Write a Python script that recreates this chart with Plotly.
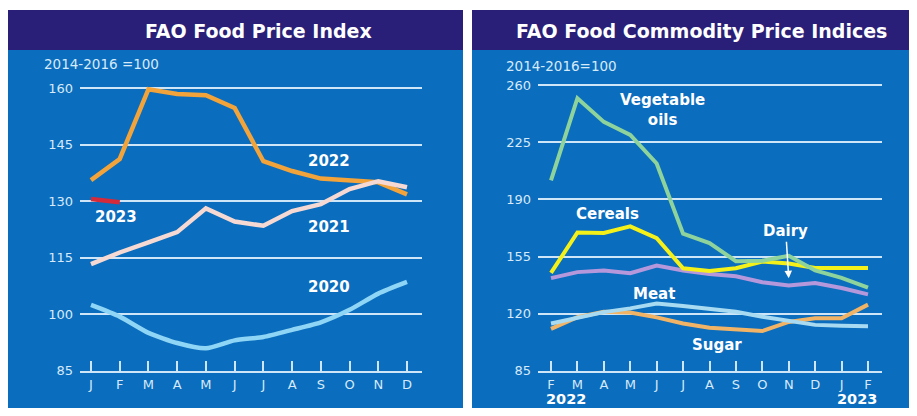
import plotly.graph_objects as go

# page body has an 8px margin, so the figure is drawn 8px in from the top-left
OFF = 8
W, H = 917 - OFF, 416 - OFF

# ---------------- data ----------------
months_left = ["J", "F", "M", "A", "M", "J", "J", "A", "S", "O", "N", "D"]
fpi_2020 = [102.5, 99.4, 95.1, 92.4, 91.0, 93.1, 94.0, 95.9, 97.9, 101.2, 105.5, 108.6]
fpi_2021 = [113.3, 116.4, 119.1, 121.8, 128.1, 124.6, 123.5, 127.4, 129.2, 133.2, 135.3, 133.7]
fpi_2022 = [135.6, 141.2, 159.7, 158.4, 158.1, 154.7, 140.6, 138.0, 136.0, 135.4, 135.0, 131.8]
fpi_2023 = [130.6, 129.7]
left_ticks = [85, 100, 115, 130, 145, 160]

months_right = ["F", "M", "A", "M", "J", "J", "A", "S", "O", "N", "D", "J", "F"]
veg_oils = [201.7, 252.0, 237.5, 229.5, 212.0, 169.0, 163.3, 152.2, 152.5, 155.5, 146.5, 142.0, 136.0]
cereals = [145.0, 169.8, 169.5, 173.5, 166.3, 147.8, 146.2, 147.9, 152.0, 150.8, 148.0, 148.0, 148.0]
dairy = [141.8, 145.5, 146.5, 144.8, 149.5, 146.5, 144.3, 143.0, 139.3, 137.3, 138.8, 135.8, 131.9]
meat = [114.0, 117.5, 121.0, 123.3, 126.3, 124.8, 123.0, 121.2, 118.2, 115.6, 113.2, 112.6, 112.3]
sugar = [110.8, 117.9, 121.2, 120.8, 117.8, 114.0, 111.5, 110.5, 109.4, 115.0, 117.2, 117.2, 125.6]
right_ticks = [85, 120, 155, 190, 225, 260]


def px(x):
    return (x - OFF) / W


def py(y):
    return 1 - (y - OFF) / H


NAVY = "#2a1f78"
BODY = "#0b6dbd"
GRID = "#cfe6f8"
TXT = "#d6eafa"
FONT = "DejaVu Sans"

fig = go.Figure()

# left panel traces
fig.add_trace(go.Scatter(x=list(range(12)), y=fpi_2020, mode="lines",
                         line=dict(color="#8fd5f5", width=4.5, shape="spline", smoothing=0.6),
                         xaxis="x", yaxis="y", hoverinfo="skip"))
fig.add_trace(go.Scatter(x=list(range(12)), y=fpi_2022, mode="lines",
                         line=dict(color="#f2a33a", width=4.5),
                         xaxis="x", yaxis="y", hoverinfo="skip"))
fig.add_trace(go.Scatter(x=list(range(12)), y=fpi_2021, mode="lines",
                         line=dict(color="#f6d9d2", width=4.5),
                         xaxis="x", yaxis="y", hoverinfo="skip"))
fig.add_trace(go.Scatter(x=list(range(len(fpi_2023))), y=fpi_2023, mode="lines",
                         line=dict(color="#d42a3a", width=4.5),
                         xaxis="x", yaxis="y", hoverinfo="skip"))

# right panel traces
rx = list(range(13))
for vals, col in [(dairy, "#b598dc"), (sugar, "#f1b466"), (meat, "#a8dbf2"),
                  (cereals, "#f3f01a"), (veg_oils, "#8ed39b")]:
    fig.add_trace(go.Scatter(x=rx, y=vals, mode="lines",
                             line=dict(color=col, width=4),
                             xaxis="x2", yaxis="y2", hoverinfo="skip"))

# geometry of plot areas (reference pixel coordinates)
lx0, lx1 = 80, 422
rx0, rx1 = 538, 882
ytop, ybot = 80, 378

l_step = (407 - 91) / 11
r_step = (868 - 551) / 12
l_range = [(lx0 - 91) / l_step, (lx1 - 91) / l_step]
r_range = [(rx0 - 551) / r_step, (rx1 - 551) / r_step]
l_ppu = (378 - 88) / 75
r_ppu = (378 - 85) / 175

axis_common = dict(showgrid=False, zeroline=False, showline=True, linecolor=GRID, linewidth=2,
                   ticks="inside", ticklen=10, tickwidth=2, tickcolor=GRID,
                   tickfont=dict(family=FONT, size=13, color=TXT), fixedrange=True)
yaxis_common = dict(showgrid=True, gridcolor=GRID, gridwidth=2, zeroline=False, showline=False,
                    ticks="", ticklabelstandoff=6,
                    tickfont=dict(family=FONT, size=13, color=TXT), fixedrange=True)

fig.update_layout(
    width=W, height=H, margin=dict(l=0, r=0, t=0, b=0),
    paper_bgcolor="white", plot_bgcolor="rgba(0,0,0,0)",
    showlegend=False,
    xaxis=dict(domain=[px(lx0), px(lx1)], range=l_range, anchor="y",
               tickvals=list(range(12)), ticktext=months_left, **axis_common),
    yaxis=dict(domain=[py(ybot), py(ytop)], range=[85, 160 + (88 - ytop) / l_ppu], anchor="x",
               tickvals=left_ticks, **yaxis_common),
    xaxis2=dict(domain=[px(rx0), px(rx1)], range=r_range, anchor="y2",
                tickvals=rx, ticktext=months_right, **axis_common),
    yaxis2=dict(domain=[py(ybot), py(ytop)], range=[85, 260 + (85 - ytop) / r_ppu], anchor="x2",
                tickvals=right_ticks, **yaxis_common),
)

shapes = [
    dict(type="rect", xref="paper", yref="paper", x0=px(8), x1=px(463), y0=py(416), y1=py(8),
         fillcolor=BODY, line=dict(width=0), layer="below"),
    dict(type="rect", xref="paper", yref="paper", x0=px(472), x1=px(917), y0=py(416), y1=py(8),
         fillcolor=BODY, line=dict(width=0), layer="below"),
    dict(type="rect", xref="paper", yref="paper", x0=px(8), x1=px(463), y0=py(49), y1=py(8),
         fillcolor=NAVY, line=dict(width=0), layer="below"),
    dict(type="rect", xref="paper", yref="paper", x0=px(472), x1=px(917), y0=py(49), y1=py(8),
         fillcolor=NAVY, line=dict(width=0), layer="below"),
]
fig.update_layout(shapes=shapes)

ann = []


def text(x, y, s, size=15, bold=True, color="white", xanchor="center"):
    ann.append(dict(x=px(x), y=py(y), xref="paper", yref="paper", text=f"<b>{s}</b>" if bold else s,
                    showarrow=False, xanchor=xanchor, yanchor="middle",
                    font=dict(family=FONT, size=size, color=color)))


text(258, 30, "FAO Food Price Index", size=19)
text(701, 30, "FAO Food Commodity Price Indices", size=19)
text(42, 63, "2014-2016 =100", size=13.5, bold=False, color=TXT, xanchor="left")
text(504, 65, "2014-2016=100", size=13.5, bold=False, color=TXT, xanchor="left")

text(329, 163, "2022")
text(116, 220, "2023")
text(329, 230, "2021")
text(329, 292, "2020")

text(662, 110, "Vegetable<br>oils")
text(607, 217, "Cereals")
text(654, 299, "Meat")
text(717, 351, "Sugar")
text(566, 407, "2022", size=14.5)
text(857, 407, "2023", size=14.5)

ann.append(dict(x=9, y=85 + (378 - 283) / r_ppu, xref="x2", yref="y2",
                text="<b>Dairy</b>", showarrow=True, ax=-3, ay=-47,
                arrowhead=2, arrowsize=1, arrowwidth=1.5, arrowcolor="white",
                font=dict(family=FONT, size=15, color="white")))

fig.update_layout(annotations=ann)

fig.write_html("out.html")
